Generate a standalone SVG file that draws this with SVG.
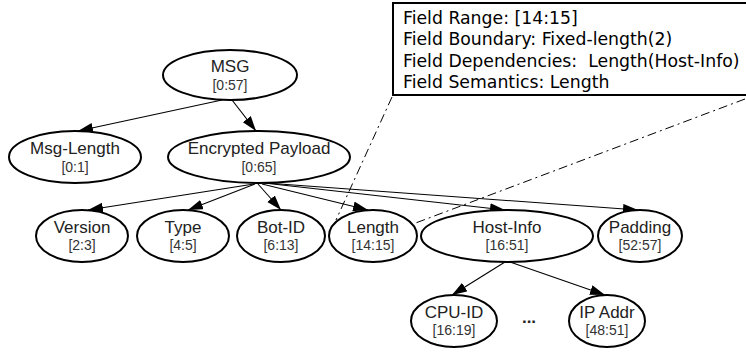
<svg xmlns="http://www.w3.org/2000/svg" width="746" height="353" viewBox="0 0 746 353">
<style>
.node ellipse{fill:#fff;stroke:#000;stroke-width:2}
.name{font-family:"Liberation Sans",Arial,sans-serif;font-size:17px;text-anchor:middle;fill:#222}
.rng{font-family:"Liberation Sans",Arial,sans-serif;font-size:14px;text-anchor:middle;fill:#333}
.edge{stroke:#000;stroke-width:1.1;fill:none;marker-end:url(#ah)}
.dd{stroke:#000;stroke-width:1;fill:none;stroke-dasharray:9,4,2,4}
.info{font-family:"DejaVu Sans",sans-serif;font-size:17.3px;fill:#000}
</style>
<defs>
<marker id="ah" markerUnits="userSpaceOnUse" markerWidth="16" markerHeight="11" refX="15" refY="5" orient="auto">
<path d="M0,0 L15,5 L0,10 z" fill="#000"/>
</marker>
</defs>
<rect width="746" height="353" fill="#fff"/>
<g id="connectors">
<path class="edge" d="M222,100 L78,131"/>
<path class="edge" d="M232,100 L256,131"/>
<path class="edge" d="M254,184 L88,210"/>
<path class="edge" d="M255,184 L188,210"/>
<path class="edge" d="M258,184 L281,210"/>
<path class="edge" d="M262,184 L368,210"/>
<path class="edge" d="M264,183 L505,210"/>
<path class="edge" d="M266,183 L638,210"/>
<path class="edge" d="M505,262 L452,295"/>
<path class="edge" d="M510,262 L605,295"/>
<path class="dd" d="M392,97 L336,220"/>
<path class="dd" d="M745,99 L413,224"/>
</g>
<g id="n-msg" class="node"><ellipse cx="230" cy="75" rx="67" ry="25"/><text class="name" x="230" y="72">MSG</text><text class="rng" x="230" y="90">[0:57]</text></g>
<g id="n-msglength" class="node"><ellipse cx="75" cy="157" rx="66" ry="26"/><text class="name" x="75" y="154">Msg-Length</text><text class="rng" x="75" y="172">[0:1]</text></g>
<g id="n-payload" class="node"><ellipse cx="259" cy="157" rx="91" ry="26"/><text class="name" x="259" y="154">Encrypted Payload</text><text class="rng" x="259" y="172">[0:65]</text></g>
<g id="n-version" class="node"><ellipse cx="82" cy="236" rx="46" ry="26"/><text class="name" x="82" y="233">Version</text><text class="rng" x="82" y="250">[2:3]</text></g>
<g id="n-type" class="node"><ellipse cx="183" cy="236" rx="46" ry="26"/><text class="name" x="183" y="233">Type</text><text class="rng" x="183" y="250">[4:5]</text></g>
<g id="n-botid" class="node"><ellipse cx="281" cy="236" rx="44" ry="26"/><text class="name" x="281" y="233">Bot-ID</text><text class="rng" x="281" y="250">[6:13]</text></g>
<g id="n-length" class="node"><ellipse cx="373" cy="236" rx="44" ry="26"/><text class="name" x="373" y="233">Length</text><text class="rng" x="373" y="250">[14:15]</text></g>
<g id="n-hostinfo" class="node"><ellipse cx="507" cy="236" rx="86" ry="26"/><text class="name" x="507" y="233">Host-Info</text><text class="rng" x="507" y="250">[16:51]</text></g>
<g id="n-padding" class="node"><ellipse cx="640" cy="236" rx="42" ry="26"/><text class="name" x="640" y="233">Padding</text><text class="rng" x="640" y="250">[52:57]</text></g>
<g id="n-cpuid" class="node"><ellipse cx="454" cy="321" rx="43" ry="26"/><text class="name" x="454" y="318">CPU-ID</text><text class="rng" x="454" y="335">[16:19]</text></g>
<g id="n-ipaddr" class="node"><ellipse cx="607" cy="321" rx="38" ry="26"/><text class="name" x="607" y="318">IP Addr</text><text class="rng" x="607" y="335">[48:51]</text></g>
<g id="n-ellipsis"><text class="name" x="529" y="323" style="font-weight:bold">...</text></g>
<g id="n-info">
<rect x="393" y="3" width="356" height="92" fill="#fff" stroke="#000" stroke-width="2"/>
<text class="info" x="403" y="23.5">Field Range: [14:15]</text>
<text class="info" x="403" y="45">Field Boundary: Fixed-length(2)</text>
<text class="info" x="403" y="66.5" xml:space="preserve">Field Dependencies:  Length(Host-Info)</text>
<text class="info" x="403" y="88">Field Semantics: Length</text>
</g>
</svg>
